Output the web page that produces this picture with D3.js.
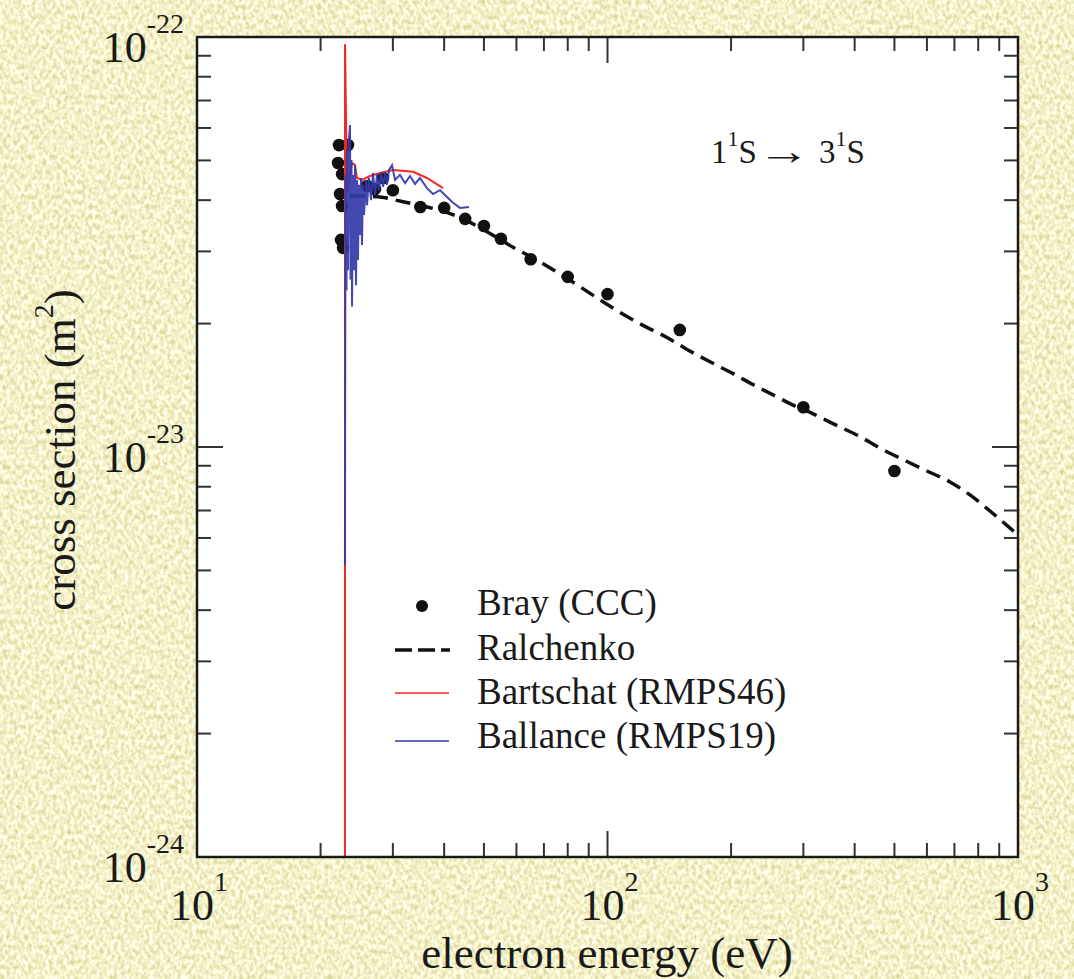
<!DOCTYPE html>
<html>
<head>
<meta charset="utf-8">
<script src="https://cdn.jsdelivr.net/npm/d3@7"></script>
<style>
  html, body { margin: 0; padding: 0; background: #f1f0c6; }
  svg { display: block; }
  text { font-family: "Liberation Serif", "Times New Roman", Times, serif; fill: #1a1a1a; }
</style>
</head>
<body>
<svg id="chart" width="1074" height="979"></svg>
<script>
// Electron-impact excitation of helium, 1¹S → 3¹S

// Bray (CCC) calculated points: energy (eV), cross section (m²)
const cccEnergy = [22.18, 23.32, 22.06, 22.56, 22.31, 22.56, 22.43, 22.69,
  25.95, 27.14, 28.39, 30, 35, 40, 45, 50, 55, 65, 80, 100, 150, 300, 500];
const cccSigma = [5.45e-23, 5.45e-23, 4.93e-23, 4.63e-23, 4.14e-23, 3.87e-23, 3.20e-23, 3.06e-23,
  4.33e-23, 4.26e-23, 4.53e-23, 4.23e-23, 3.85e-23, 3.83e-23, 3.60e-23, 3.46e-23,
  3.22e-23, 2.87e-23, 2.60e-23, 2.36e-23, 1.93e-23, 1.25e-23, 8.74e-24];

// Ralchenko fit curve
const ralEnergy = [23.59, 27.92, 31.22, 35.52, 39.74, 44.96, 50.87, 58.87, 68.49, 75.35,
  85.70, 97.51, 107.3, 122.0, 139.6, 156.2, 180.7, 202.2, 226.2, 253.1, 283.1,
  316.7, 354.3, 412.2, 461.1, 536.6, 600.2, 682.9, 764.0, 854.8, 1000];
const ralSigma = [4.10e-23, 4.07e-23, 3.98e-23, 3.87e-23, 3.76e-23, 3.58e-23, 3.35e-23, 3.07e-23,
  2.83e-23, 2.67e-23, 2.46e-23, 2.26e-23, 2.13e-23, 1.98e-23, 1.85e-23, 1.73e-23,
  1.60e-23, 1.51e-23, 1.42e-23, 1.34e-23, 1.265e-23, 1.205e-23, 1.14e-23, 1.06e-23,
  9.94e-24, 9.22e-24, 8.74e-24, 8.22e-24, 7.64e-24, 6.98e-24, 6.10e-24];

// Bartschat (RMPS46)
const rmps46Energy = [22.93, 22.94, 23.2, 23.86, 24.26, 24.53, 25.23, 26.39, 27.92,
  30.02, 33.59, 36.33, 39.74];
const rmps46Sigma = [5e-25, 9.6e-23, 4.2e-23, 4.93e-23, 4.87e-23, 4.53e-23, 4.48e-23, 4.58e-23,
  4.66e-23, 4.74e-23, 4.69e-23, 4.53e-23, 4.28e-23];

// Ballance (RMPS19)
const rmps19Energy = [22.93, 23.00, 23.13, 23.19, 23.32, 23.45, 23.59, 23.66, 23.79, 23.86,
  23.99, 24.13, 24.26, 24.40, 24.53, 24.67, 24.81, 24.95, 25.09, 25.23, 25.37, 25.52,
  25.81, 25.95, 26.24, 26.54, 26.84, 27.14, 27.45, 27.76, 28.07, 28.39, 28.71, 29.03,
  29.36, 29.86, 30.37, 31.22, 32.13, 33.03, 33.97, 34.93, 36.33, 37.58, 39.08, 40.64,
  42.04, 43.72, 45.99];
const rmps19Sigma = [5.16e-24, 4.61e-23, 2.41e-23, 5.30e-23, 2.70e-23, 5.61e-23, 6.10e-23, 2.56e-23,
  5.01e-23, 2.20e-23, 4.61e-23, 2.70e-23, 4.87e-23, 2.48e-23, 4.48e-23, 2.86e-23,
  4.36e-23, 3.29e-23, 4.53e-23, 3.11e-23, 4.36e-23, 3.68e-23, 4.48e-23, 3.89e-23,
  4.53e-23, 4.00e-23, 4.66e-23, 4.12e-23, 4.61e-23, 4.23e-23, 4.68e-23, 4.31e-23,
  4.68e-23, 4.36e-23, 4.74e-23, 4.87e-23, 4.48e-23, 4.61e-23, 4.40e-23, 4.58e-23,
  4.38e-23, 4.53e-23, 4.28e-23, 4.14e-23, 4.23e-23, 4.07e-23, 3.94e-23, 3.83e-23, 3.85e-23];

const legendLabels = ["Bray (CCC)", "Ralchenko", "Bartschat (RMPS46)", "Ballance (RMPS19)"];
const xDomain = [10, 1000];
const yDomain = [1e-24, 1e-22];

const svg = d3.select("#chart");
const W = 1074, H = 979;
const L = 197, R = 1018, T = 37, B = 857;

// textured paper background
const defs = svg.append("defs");
const f = defs.append("filter").attr("id", "paper")
  .attr("x", 0).attr("y", 0).attr("width", "100%").attr("height", "100%")
  .attr("color-interpolation-filters", "sRGB");
f.append("feTurbulence").attr("type", "fractalNoise")
  .attr("baseFrequency", "0.28 0.2").attr("numOctaves", 2).attr("seed", 7);
f.append("feColorMatrix").attr("type", "matrix")
  .attr("values", "0.34 0 0 0 0.785  0.34 0 0 0 0.775  0.62 0 0 0 0.48  0 0 0 0 1");
svg.append("rect").attr("width", W).attr("height", H).attr("filter", "url(#paper)");

defs.append("clipPath").attr("id", "plotClip")
  .append("rect").attr("x", L).attr("y", T).attr("width", R - L).attr("height", B - T);

svg.append("rect").attr("x", L).attr("y", T).attr("width", R - L).attr("height", B - T)
  .attr("fill", "#ffffff");

const x = d3.scaleLog().domain(xDomain).range([L, R]);
const y = d3.scaleLog().domain(yDomain).range([B, T]);

const isMajor = v => Math.abs(Math.log10(v) - Math.round(Math.log10(v))) < 1e-9;
const MAJ = 26, MIN = 14;

// ticks on all four sides, pointing inward
const tickG = svg.append("g").attr("stroke", "#333").attr("stroke-width", 2);
x.ticks().forEach(v => {
  const px = x(v), len = isMajor(v) ? MAJ : MIN;
  if (px <= L + 0.5 || px >= R - 0.5) return;
  tickG.append("line").attr("x1", px).attr("x2", px).attr("y1", B).attr("y2", B - len);
  tickG.append("line").attr("x1", px).attr("x2", px).attr("y1", T).attr("y2", T + len);
});
y.ticks().forEach(v => {
  const py = y(v), len = isMajor(v) ? MAJ : MIN;
  if (py <= T + 0.5 || py >= B - 0.5) return;
  tickG.append("line").attr("x1", L).attr("x2", L + len).attr("y1", py).attr("y2", py);
  tickG.append("line").attr("x1", R).attr("x2", R - len).attr("y1", py).attr("y2", py);
});

// tick labels as powers of ten
const expOf = v => Math.round(Math.log10(v));
x.ticks().filter(isMajor).forEach(v => {
  const t = svg.append("text").attr("x", x(v) + 2).attr("y", 920)
    .attr("text-anchor", "middle").attr("font-size", 44);
  t.append("tspan").text("10");
  t.append("tspan").attr("dy", -29).attr("font-size", 28).text(expOf(v));
});
y.ticks().filter(isMajor).forEach(v => {
  const t = svg.append("text").attr("x", 184).attr("y", y(v) + 25)
    .attr("text-anchor", "end").attr("font-size", 44);
  t.append("tspan").text("10");
  t.append("tspan").attr("dy", -29).attr("font-size", 28).text(expOf(v));
});

// axis titles
svg.append("text").attr("x", 607).attr("y", 968).attr("text-anchor", "middle")
  .attr("font-size", 45).text("electron energy (eV)");
const yt = svg.append("text").attr("transform", "translate(75,450) rotate(-90)")
  .attr("text-anchor", "middle").attr("font-size", 45);
yt.append("tspan").text("cross section (m");
yt.append("tspan").attr("dy", -22).attr("font-size", 28).text("2");
yt.append("tspan").attr("dy", 22).text(")");

// data
const plot = svg.append("g").attr("clip-path", "url(#plotClip)");
const line = d3.line().x(d => x(d[0])).y(d => y(d[1]));
const smooth = d3.line().x(d => x(d[0])).y(d => y(d[1])).curve(d3.curveMonotoneX);

plot.append("path")
  .datum(d3.zip(ralEnergy, ralSigma))
  .attr("d", smooth).attr("fill", "none").attr("stroke", "#111")
  .attr("stroke-width", 3.5).attr("stroke-dasharray", "15,8");

plot.selectAll("circle.ccc").data(d3.zip(cccEnergy, cccSigma)).join("circle")
  .attr("class", "ccc").attr("cx", d => x(d[0])).attr("cy", d => y(d[1]))
  .attr("r", 6.3).attr("fill", "#111");

plot.append("path")
  .datum(d3.zip(rmps46Energy, rmps46Sigma))
  .attr("d", line).attr("fill", "none").attr("stroke", "#f02828").attr("stroke-width", 2);

plot.append("path")
  .datum(d3.zip(rmps19Energy, rmps19Sigma))
  .attr("d", line).attr("fill", "none").attr("stroke", "#3339a8").attr("stroke-width", 2)
  .attr("stroke-opacity", 0.92);

// frame
svg.append("rect").attr("x", L).attr("y", T).attr("width", R - L).attr("height", B - T)
  .attr("fill", "none").attr("stroke", "#1a1a1a").attr("stroke-width", 2.5);

// transition label: initial state, arrow, final state
const lower = svg.append("text").attr("x", 711).attr("y", 163).attr("font-size", 33);
lower.append("tspan").text("1");
lower.append("tspan").attr("dy", -17).attr("font-size", 22).text("1");
lower.append("tspan").attr("dy", 17).text("S");
svg.append("text").attr("transform", "translate(757,164) scale(1.4,1)")
  .attr("font-size", 38).text("\u2192");
const upper = svg.append("text").attr("x", 819).attr("y", 163).attr("font-size", 33);
upper.append("tspan").text("3");
upper.append("tspan").attr("dy", -17).attr("font-size", 22).text("1");
upper.append("tspan").attr("dy", 17).text("S");

// legend
const legY = [615, 660, 704, 748];
const leg = svg.append("g");
legendLabels.forEach((lab, i) => {
  leg.append("text").attr("x", 477).attr("y", legY[i]).attr("font-size", 37).text(lab);
});
leg.append("circle").attr("cx", 422).attr("cy", legY[0] - 9).attr("r", 6).attr("fill", "#111");
leg.append("line").attr("x1", 395).attr("x2", 450).attr("y1", legY[1] - 10).attr("y2", legY[1] - 10)
  .attr("stroke", "#111").attr("stroke-width", 3.5).attr("stroke-dasharray", "17,6");
leg.append("line").attr("x1", 395).attr("x2", 449).attr("y1", legY[2] - 11).attr("y2", legY[2] - 11)
  .attr("stroke", "#f02828").attr("stroke-width", 1.6);
leg.append("line").attr("x1", 395).attr("x2", 449).attr("y1", legY[3] - 7).attr("y2", legY[3] - 7)
  .attr("stroke", "#3339a8").attr("stroke-width", 1.6);
</script>
</body>
</html>
